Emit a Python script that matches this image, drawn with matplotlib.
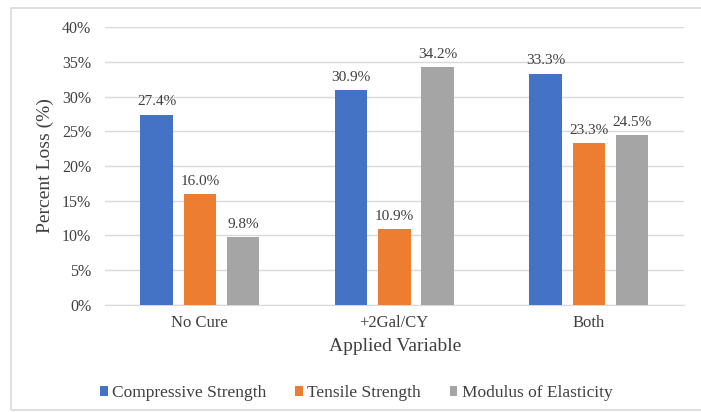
import numpy as np
import matplotlib.pyplot as plt
from matplotlib.patches import Rectangle

plt.rcParams['font.family'] = ['Liberation Serif', 'DejaVu Serif']

categories = ['No Cure', '+2Gal/CY', 'Both']
series = ['Compressive Strength', 'Tensile Strength', 'Modulus of Elasticity']
compressive = [27.4, 30.9, 33.3]
tensile = [16.0, 10.9, 23.3]
modulus = [9.8, 34.2, 24.5]
colors = ['#4472C4', '#ED7D31', '#A5A5A5']

fig = plt.figure(figsize=(7.01, 4.12), dpi=100)
ax = fig.add_axes([0.150, 0.260, 0.826, 0.674])

# faint chart frame (runs off the right edge)
fig.patches.append(Rectangle((0.015, 0.004), 1.2, 0.976, transform=fig.transFigure,
                             fill=False, edgecolor='#D9D9D9', linewidth=1.2))

x = np.arange(len(categories))
width = 0.167
step = 0.222
for i, (vals, name) in enumerate(zip([compressive, tensile, modulus], series)):
    pos = x + (i - 1) * step
    bars = ax.bar(pos, vals, width, color=colors[i], label=name, zorder=3)
    for b, v in zip(bars, vals):
        ax.text(b.get_x() + b.get_width() / 2, v + 0.9, f'{v:.1f}%',
                ha='center', va='bottom', fontsize=11, color='#404040')

ax.set_ylim(0, 40)
ax.set_xlim(-0.487, 2.49)
ax.set_yticks(range(0, 41, 5))
ax.set_yticklabels([f'{t}%' for t in range(0, 41, 5)])
ax.set_xticks(x)
ax.set_xticklabels(categories)
ax.grid(axis='y', color='#D9D9D9', linewidth=1, zorder=0)
for s in ['top', 'right', 'left']:
    ax.spines[s].set_visible(False)
ax.spines['bottom'].set_color('#D9D9D9')
ax.tick_params(axis='y', length=0, labelsize=11.5, colors='#404040', pad=10)
ax.tick_params(axis='x', length=0, labelsize=12, colors='#404040', pad=7)
ax.set_ylabel('Percent Loss (%)', fontsize=14, color='#404040', labelpad=6)
ax.set_xlabel('Applied Variable', fontsize=14, color='#404040', labelpad=5)

fig.legend(loc='center', bbox_to_anchor=(0.508, 0.046), ncol=3, frameon=False,
           fontsize=12.5, handlelength=0.45, handleheight=0.45, handletextpad=0.25,
           columnspacing=1.65, labelcolor='#404040')

fig.savefig('out.png', dpi=100)
